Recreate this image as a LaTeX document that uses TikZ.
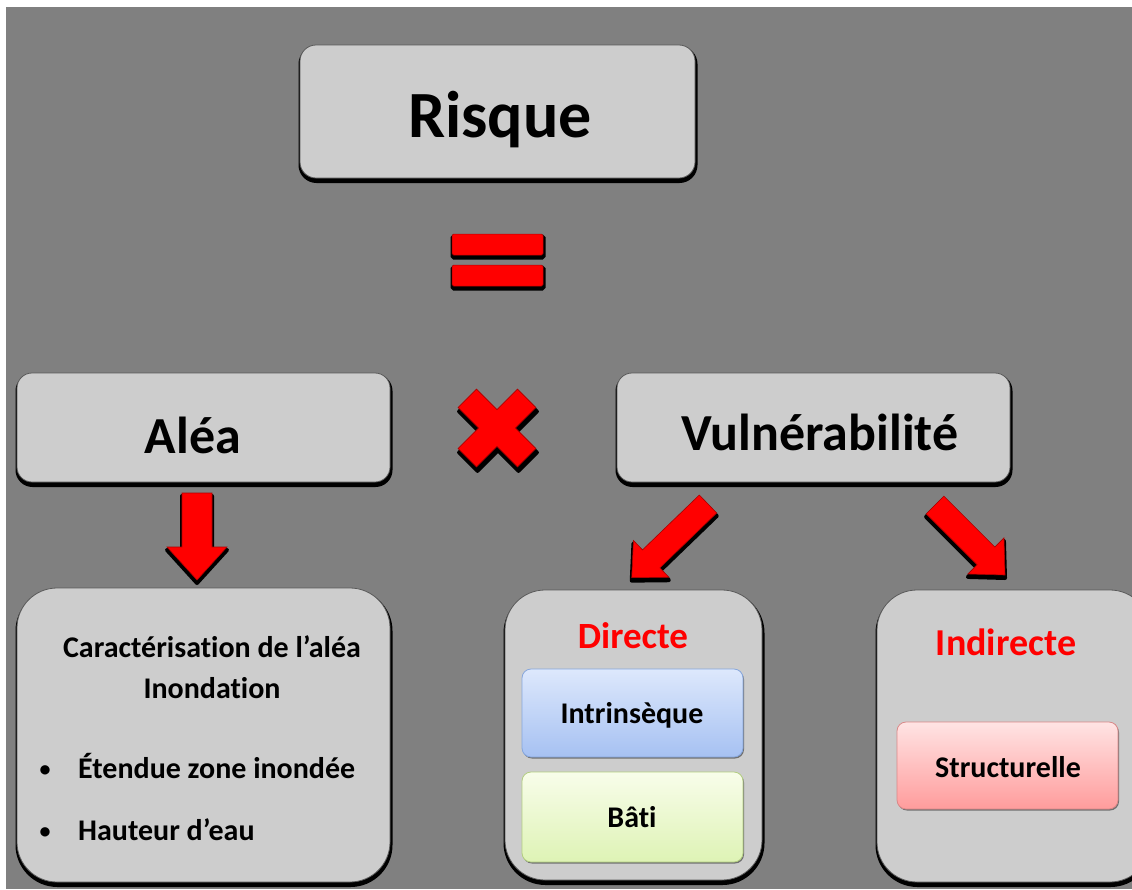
\documentclass[tikz,border=0pt]{standalone}
\usepackage{fontspec}
\setmainfont{Carlito}[Ligatures={NoCommon}]
\usetikzlibrary{shadows}
\definecolor{bggray}{HTML}{808080}
\definecolor{boxgray}{HTML}{CDCDCD}
\definecolor{boxedge}{HTML}{5A5A5A}
\definecolor{blueT}{HTML}{DDE8FC}
\definecolor{blueB}{HTML}{A6C1F2}
\definecolor{blueE}{HTML}{86A6DC}
\definecolor{greenT}{HTML}{F8FDEA}
\definecolor{greenB}{HTML}{DEF3B5}
\definecolor{greenE}{HTML}{B2CD80}
\definecolor{pinkT}{HTML}{FFE4E4}
\definecolor{pinkB}{HTML}{FF9C9C}
\definecolor{pinkE}{HTML}{D98888}
\definecolor{redE}{HTML}{B00000}
\tikzset{
  bigshadow/.style={drop shadow={shadow xshift=0.5pt, shadow yshift=-3pt, fill=black, draw=black, line width=4pt, opacity=1}},
  box/.style={rounded corners=#1, fill=boxgray, draw=boxedge, line width=0.8pt, inner sep=0pt, bigshadow},
  ibox/.style n args={3}{rounded corners=9, top color=#1, bottom color=#2, draw=#3, line width=0.8pt, inner sep=0pt,
     minimum width=221, drop shadow={shadow xshift=1pt, shadow yshift=-1.5pt, opacity=0.45, fill=black}},
  redbar/.style={fill=red, draw=redE, line width=0.5pt, rounded corners=1.5, inner sep=0pt,
     drop shadow={shadow xshift=0.5pt, shadow yshift=-2.5pt, fill=black, draw=black, line width=4pt, opacity=1}},
  lbl/.style={anchor=base, inner sep=0pt, font=\fontsize{#1}{#1}\selectfont\bfseries},
  pics/barrow/.style n args={4}{code={
    \path[pic actions] (0,-#2) -- (#1-#4,-#2) -- (#1-#4,-#3) -- (#1,0) -- (#1-#4,#3) -- (#1-#4,#2) -- (0,#2) -- cycle;
  }},
  pics/cross/.style n args={2}{code={
    \path[pic actions] (#2,#2) -- (#1,#2) -- (#1,-#2) -- (#2,-#2) -- (#2,-#1) -- (-#2,-#1) -- (-#2,-#2) -- (-#1,-#2)
      -- (-#1,#2) -- (-#2,#2) -- (-#2,#1) -- (#2,#1) -- cycle;
  }},
  arrshadow/.style={fill=black, draw=black, line width=4pt, line join=round},
  arrred/.style={fill=red, draw=redE, line width=0.6pt, line join=miter},
}
\begin{document}
\begin{tikzpicture}[x=1pt,y=-1pt]
\useasboundingbox (0,0) rectangle (1132,889);
\fill[white] (0,0) rectangle (1132,889);
\clip (0,0) rectangle (1132,889);
\fill[bggray] (6,7) rectangle (1132,889);

% top box
\node[box=16, minimum width=395, minimum height=133] (risque) at (497.5,111.5) {};
\node[lbl=66] (risqueT) at (500,137) {Risque};

% equals sign
\node[redbar, minimum width=91, minimum height=21] (eq1) at (497.5,244.5) {};
\node[redbar, minimum width=91, minimum height=21] (eq2) at (497.5,275.5) {};

% middle boxes
\node[box=15, minimum width=373, minimum height=109] (alea) at (203.5,427.5) {};
\node[lbl=52] (aleaT) at (193,453) {Aléa};
\node[box=15, minimum width=393, minimum height=109] (vuln) at (813.5,427.5) {};
\node[lbl=52] (vulnT) at (820,450) {Vulnérabilité};

% multiplication cross
\coordinate (xc) at (497,428);
\pic[arrshadow, rotate=45] at ([shift={(1,4)}]xc) {cross={42}{13}};
\pic[arrred, rotate=45] at (xc) {cross={42}{13}};

% block arrows
\coordinate (a1) at (197,493);
\coordinate (a2) at (708,504);
\coordinate (a3) at (935,505);
\pic[arrshadow, rotate=-90] at ([shift={(0,3)}]a1) {barrow={87}{15}{30}{33}};
\pic[arrred, rotate=-90] at (a1) {barrow={87}{15}{30}{33}};
\pic[arrshadow, rotate=224] at ([shift={(0,3)}]a2) {barrow={106}{12.5}{25.5}{27}};
\pic[arrred, rotate=224] at (a2) {barrow={106}{12.5}{25.5}{27}};
\pic[arrshadow, rotate=-45] at ([shift={(0,3)}]a3) {barrow={99}{12.5}{25.5}{27}};
\pic[arrred, rotate=-45] at (a3) {barrow={99}{12.5}{25.5}{27}};

% bottom-left box
\node[box=40, minimum width=373, minimum height=294] (car) at (203.5,735) {};
\node[lbl=30] (carT) at (212,657) {Caractérisation de l’aléa};
\node[lbl=30] (inonT) at (212,698) {Inondation};
\node[lbl=22] (b1) at (45,776) {\textbullet};
\node[lbl=30, anchor=base west] (etT) at (78,778) {Étendue zone inondée};
\node[lbl=22] (b2) at (45,838) {\textbullet};
\node[lbl=30, anchor=base west] (hauT) at (78,840) {Hauteur d’eau};

% directe box
\node[box=40, minimum width=257, minimum height=290] (dir) at (633.5,735) {};
\node[lbl=37, text=red] (dirT) at (633,648) {Directe};
\node[ibox={blueT}{blueB}{blueE}, minimum height=88] (intr) at (632.5,713) {};
\node[lbl=30] (intrT) at (632,723) {Intrinsèque};
\node[ibox={greenT}{greenB}{greenE}, minimum height=90] (bati) at (632.5,817) {};
\node[lbl=30] (batiT) at (632,827) {Bâti};

% indirecte box
\node[box=40, minimum width=273, minimum height=292] (ind) at (1013.5,736) {};
\node[lbl=38, text=red] (indT) at (1006,655) {Indirecte};
\node[ibox={pinkT}{pinkB}{pinkE}, minimum height=87] (str) at (1007.5,765.5) {};
\node[lbl=30] (strT) at (1008,777) {Structurelle};
\end{tikzpicture}
\end{document}
